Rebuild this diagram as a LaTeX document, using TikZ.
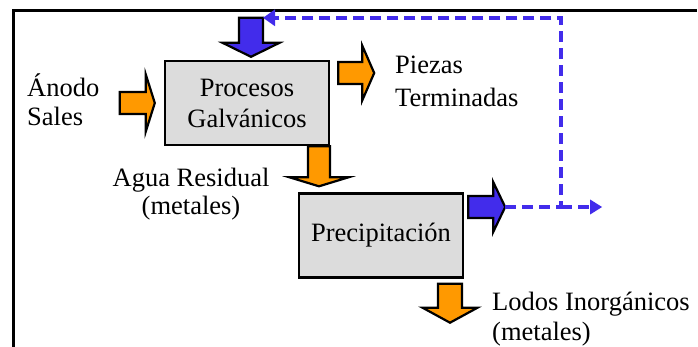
\documentclass[tikz,border=0pt]{standalone}
\usepackage{fontspec}
\setmainfont{Liberation Serif}
\usetikzlibrary{arrows.meta}
\definecolor{orng}{RGB}{255,153,0}
\definecolor{blu}{RGB}{66,44,235}
\definecolor{boxgray}{RGB}{220,220,220}
% #1 style, #2 tip coordinate, #3 angle, #4 shaft length, #5 shaft half width, #6 head half width, #7 head depth
\newcommand\blkarrow[7]{%
  \draw[#1, shift={(#2)}, rotate=#3] (0,0) -- (-#7,#6) -- (-#7,#5) -- ({-#7-#4},#5)
    -- ({-#7-#4},-#5) -- (-#7,-#5) -- (-#7,-#6) -- cycle;}
\begin{document}
\begin{tikzpicture}[x=1pt,y=-1pt,
  lbl/.style={font=\fontsize{26.5}{31}\selectfont, inner sep=0pt},
  procbox/.style={draw=black, line width=2.4pt, fill=boxgray, minimum width=164pt,
    minimum height=84pt, inner sep=0pt, align=center, font=\fontsize{26.5}{31}\selectfont},
  orangeA/.style={draw=black, fill=orng, line width=2.2pt, line join=miter},
  blueA/.style={draw=black, fill=blu, line width=2.2pt, line join=miter},
  flow/.style={draw=blu, line width=4pt, dash pattern=on 11pt off 6pt}]
\useasboundingbox (0,0) rectangle (698,347);
\draw[line width=3pt] (13,347) -- (13,11) -- (697,11);

\node[procbox] (proc) at (247,103) {Procesos\\Galvánicos};
\node[procbox] (prec) at (381,235.5) {Precipitación};

% arrow tips
\coordinate (tA) at ([xshift=-9pt]proc.west);
\coordinate (tP) at ([xshift=44pt,yshift=30pt]proc.east);
\coordinate (tB) at ([xshift=4pt,yshift=3pt]proc.north);
\coordinate (tD) at ([xshift=-62pt,yshift=6pt]prec.north);
\coordinate (tR) at ([xshift=41pt,yshift=28.5pt]prec.east);
\coordinate (tL) at ([xshift=69pt,yshift=-44pt]prec.south);

\blkarrow{orangeA}{tA}{0}{26}{11}{28.5}{9}
\blkarrow{orangeA}{tP}{0}{24}{11}{27.5}{12}
\blkarrow{blueA}{tB}{-90}{25}{12}{28.5}{14}
\blkarrow{orangeA}{tD}{-90}{31}{11}{29.5}{9}
\blkarrow{blueA}{tR}{0}{25}{11}{25}{12}
\blkarrow{orangeA}{tL}{-90}{24}{12}{27.5}{15}

% recycle flow
\coordinate (fb) at ([xshift=12pt,yshift=39pt]tB);
\coordinate (jn) at ([xshift=56pt]tR);
\coordinate (fe) at ([xshift=41pt]jn);
\draw[flow, -{Triangle[length=12pt,width=16pt]}] (tR) -- (jn) |- (fb);
\draw[flow, -{Triangle[length=12pt,width=14pt]}] (jn) -- (fe);

% labels
\node[lbl, anchor=base west] (an1) at (27,97) {Ánodo};
\node[lbl, anchor=base west] (an2) at (27,126) {Sales};
\node[lbl, anchor=base west] (pz1) at (395,74) {Piezas};
\node[lbl, anchor=base west] (pz2) at (395,107) {Terminadas};
\node[lbl, anchor=base] (ag1) at (191,187) {Agua Residual};
\node[lbl, anchor=base] (ag2) at (191,215) {(metales)};
\node[lbl, anchor=base west] (lo1) at (492,310) {Lodos Inorgánicos};
\node[lbl, anchor=base west] (lo2) at (492,340) {(metales)};
\end{tikzpicture}
\end{document}
